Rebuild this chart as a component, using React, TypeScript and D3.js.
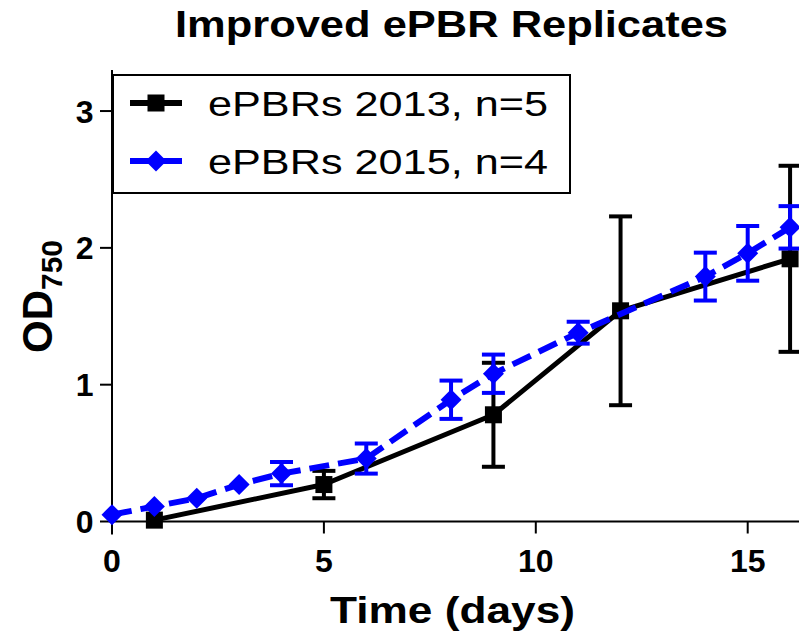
import React from "react";
import * as d3 from "d3";

const days2013 = [1, 5, 9, 12, 16];
const od2013 = [0.01, 0.27, 0.78, 1.54, 1.92];
const err2013 = [0.0, 0.1, 0.38, 0.69, 0.68];

const days2015 = [0, 1, 2, 3, 4, 6, 8, 9, 11, 14, 15, 16];
const od2015 = [0.05, 0.11, 0.17, 0.27, 0.35, 0.46, 0.89, 1.08, 1.38, 1.79, 1.96, 2.15];
const err2015 = [0.0, 0.0, 0.0, 0.0, 0.085, 0.11, 0.14, 0.14, 0.08, 0.175, 0.2, 0.155];

const xTicks = [0, 5, 10, 15];
const yTicks = [0, 1, 2, 3];
const seriesNames = ["ePBRs 2013, n=5", "ePBRs 2015, n=4"];

const W = 799;
const H = 638;
const FONT = "'Liberation Sans', Arial, sans-serif";

export default function App() {
  const x = d3.scaleLinear().domain([0, 17]).range([112, 112 + 17 * 42.38]);
  const y = d3.scaleLinear().domain([0, 3.3]).range([521.5, 70]);
  const line = d3.line<[number, number]>().x((d) => x(d[0])).y((d) => y(d[1]));

  const black = days2013.map((d, i) => [d, od2013[i]] as [number, number]);
  const blue = days2015.map((d, i) => [d, od2015[i]] as [number, number]);

  const cap = 11.5;
  const sq = 8.5;
  const dm = 10.5;

  const diamond = (cx: number, cy: number) =>
    `M${cx},${cy - dm}L${cx + dm},${cy}L${cx},${cy + dm}L${cx - dm},${cy}Z`;

  const errBar = (d: number, v: number, e: number, color: string, key: string) => {
    if (e <= 0) return null;
    const cx = x(d);
    const y1 = y(v + e);
    const y2 = y(v - e);
    return (
      <g key={key} stroke={color} strokeWidth={4}>
        <line x1={cx} x2={cx} y1={y1} y2={y2} />
        <line x1={cx - cap} x2={cx + cap} y1={y1} y2={y1} />
        <line x1={cx - cap} x2={cx + cap} y1={y2} y2={y2} />
      </g>
    );
  };

  return (
    <svg
      width={W}
      height={H}
      style={{ position: "absolute", left: 0, top: 0, background: "#fff" }}
      fontFamily={FONT}
    >
      <rect x={0} y={0} width={W} height={H} fill="#fff" />
      {/* Title */}
      <text
        x={175}
        y={37}
        fontWeight="bold"
        fontSize={37}
        textLength={553}
        lengthAdjust="spacingAndGlyphs"
      >
        Improved ePBR Replicates
      </text>

      {/* Axes */}
      <line x1={x(0)} x2={W + 10} y1={y(0)} y2={y(0)} stroke="#000" strokeWidth={2} />
      <line x1={x(0)} x2={x(0)} y1={y(3.3)} y2={y(0) + 13} stroke="#000" strokeWidth={2} />
      {xTicks.map((t) => (
        <g key={"xt" + t}>
          <line x1={x(t)} x2={x(t)} y1={y(0)} y2={y(0) + 12} stroke="#000" strokeWidth={2} />
          <text x={x(t)} y={572} textAnchor="middle" fontWeight="bold" fontSize={32}>
            {t}
          </text>
        </g>
      ))}
      {yTicks.map((t) => (
        <g key={"yt" + t}>
          <line x1={x(0) - 12} x2={x(0)} y1={y(t)} y2={y(t)} stroke="#000" strokeWidth={2} />
          <text x={93.5} y={y(t) + 11.5} textAnchor="end" fontWeight="bold" fontSize={32}>
            {t}
          </text>
        </g>
      ))}

      {/* Axis labels */}
      <text
        x={330}
        y={623}
        fontWeight="bold"
        fontSize={36}
        textLength={245}
        lengthAdjust="spacingAndGlyphs"
      >
        Time (days)
      </text>
      <text
        transform={`translate(52,353) rotate(-90)`}
        fontWeight="bold"
        fontSize={42}
      >
        OD
        <tspan fontSize={30} dy={10}>
          750
        </tspan>
      </text>

      {/* 2013 series */}
      {days2013.map((d, i) => errBar(d, od2013[i], err2013[i], "#000", "eb" + i))}
      <path d={line(black) || ""} fill="none" stroke="#000" strokeWidth={5} strokeLinejoin="round" />
      {black.map((p, i) => (
        <rect key={"sq" + i} x={x(p[0]) - sq} y={y(p[1]) - sq} width={sq * 2} height={sq * 2} fill="#000" />
      ))}

      {/* 2015 series */}
      {days2015.map((d, i) => errBar(d, od2015[i], err2015[i], "#0000ff", "ebb" + i))}
      <path
        d={line(blue) || ""}
        fill="none"
        stroke="#0000ff"
        strokeWidth={6}
        strokeDasharray="20,9"
      />
      {blue.map((p, i) => (
        <path key={"dm" + i} d={diamond(x(p[0]), y(p[1]))} fill="#0000ff" />
      ))}

      {/* Legend */}
      <rect x={113} y={75} width={457} height={118} fill="#fff" stroke="#000" strokeWidth={2} />
      <line x1={130} x2={182} y1={103} y2={103} stroke="#000" strokeWidth={6} />
      <rect x={156 - sq} y={103 - sq} width={sq * 2} height={sq * 2} fill="#000" />
      <text x={208} y={116} fontSize={35} textLength={340} lengthAdjust="spacingAndGlyphs">
        {seriesNames[0]}
      </text>
      <line x1={130} x2={182} y1={161} y2={161} stroke="#0000ff" strokeWidth={6} />
      <path d={diamond(156, 161)} fill="#0000ff" />
      <text x={208} y={174} fontSize={35} textLength={340} lengthAdjust="spacingAndGlyphs">
        {seriesNames[1]}
      </text>
    </svg>
  );
}
